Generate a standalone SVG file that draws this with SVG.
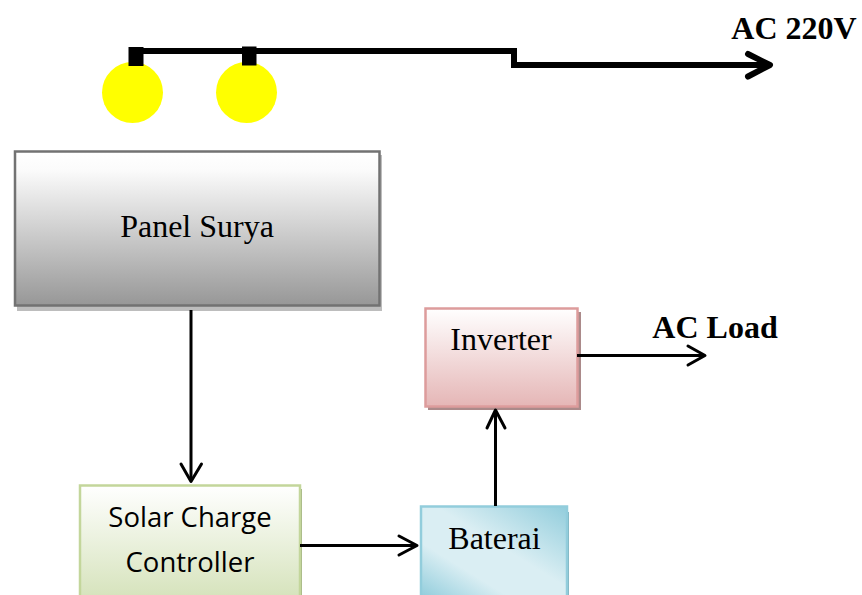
<svg xmlns="http://www.w3.org/2000/svg" width="862" height="595" viewBox="0 0 862 595">
<style>
.t{font-family:"Liberation Serif","Times New Roman",serif;font-size:32px;fill:#000;text-anchor:middle}
.b{font-weight:bold}
.c{font-family:"Open Sans","Noto Sans",sans-serif;font-size:27.500px;fill:#000;text-anchor:middle}
.w{fill:none;stroke:#000;stroke-width:3}
.a{fill:none;stroke:#000;stroke-width:3;stroke-linecap:round;stroke-linejoin:round}
.h{fill:none;stroke:#000;stroke-width:6;stroke-linecap:round;stroke-linejoin:round}
</style>
<defs>
<linearGradient id="g1" x1="0" y1="0" x2="0" y2="1"><stop offset="0" stop-color="#fff"/><stop offset="0.12" stop-color="#fbfbfb"/><stop offset="1" stop-color="#979797"/></linearGradient>
<linearGradient id="g2" x1="0" y1="0" x2="0" y2="1"><stop offset="0" stop-color="#fff"/><stop offset="1" stop-color="#e5b6b6"/></linearGradient>
<linearGradient id="g3" x1="0" y1="0" x2="0" y2="1"><stop offset="0" stop-color="#fff"/><stop offset="1" stop-color="#d6e3bc"/></linearGradient>
<linearGradient id="g4" x1="0" y1="1" x2="1" y2="0"><stop offset="0" stop-color="#92cddc"/><stop offset="0.3" stop-color="#daeef3"/><stop offset="0.55" stop-color="#daeef3"/><stop offset="1" stop-color="#92cddc"/></linearGradient>
</defs>
<g id="lamp1"><circle cx="132.500" cy="92.500" r="30.500" fill="#ff0"/><rect x="128.500" y="47" width="15" height="19" fill="#000"/></g>
<g id="lamp2"><circle cx="246.500" cy="92.500" r="30.500" fill="#ff0"/><rect x="242" y="46.500" width="14.500" height="19" fill="#000"/></g>
<g id="panel-surya">
<rect x="17" y="155" width="365" height="156" fill="#bdbdbd"/>
<rect x="15" y="151.500" width="364.500" height="154" fill="url(#g1)" stroke="#727272" stroke-width="2.500"/>
<text class="t" x="197" y="237">Panel Surya</text>
</g>
<g id="inverter">
<rect x="428" y="312" width="153" height="98" fill="#ab8a8a"/>
<rect x="425.500" y="308.500" width="152" height="98" fill="url(#g2)" stroke="#dd9c9c" stroke-width="2.500"/>
<text class="t" x="501" y="350">Inverter</text>
</g>
<g id="ac-load"><text class="t b" x="715" y="338">AC Load</text></g>
<g id="solar-charge-controller">
<rect x="82" y="489" width="220" height="106" fill="#a5b585"/>
<rect x="80" y="485.500" width="220" height="112" fill="url(#g3)" stroke="#c3d69b" stroke-width="2.500"/>
<text class="c" x="190" y="527">Solar Charge</text>
<text class="c" x="190" y="572">Controller</text>
</g>
<g id="baterai">
<rect x="423" y="512" width="146" height="83" fill="#7fb3c0"/>
<rect x="421" y="506.500" width="146" height="90" fill="url(#g4)" stroke="#92cddc" stroke-width="2.500"/>
<text class="t" x="494.500" y="549">Baterai</text>
</g>
<g id="ac-220v"><text class="t b" x="794" y="39">AC 220V</text></g>
<g id="connectors">
<path class="w" d="M191 310V481"/>
<path class="a" d="M181 464L191 481.500L201.500 464"/>
<path class="w" d="M300 545.500H415"/>
<path class="a" d="M399 536L417 545.500L399 555"/>
<path class="w" d="M495.500 506V411"/>
<path class="a" d="M487 428L495.500 410L505 428"/>
<path class="w" d="M577 355.500H703"/>
<path class="a" d="M688 346L705 355.500L688 365"/>
<path d="M136 51H514V65H768" fill="none" stroke="#000" stroke-width="6"/>
<path class="h" d="M748 54L770 65L748 76.500"/>
</g>
</svg>
